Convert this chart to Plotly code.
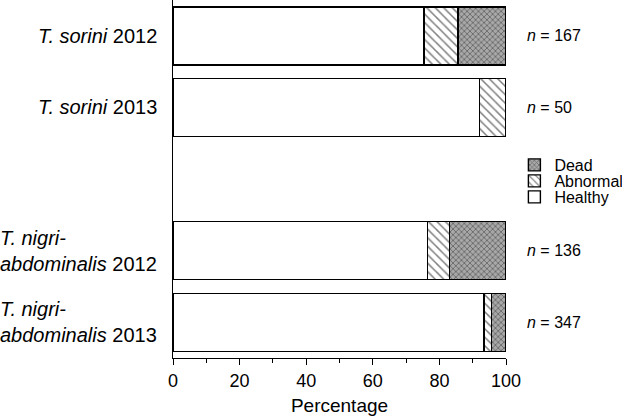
import plotly.graph_objects as go

# percentages of each outcome per sample
groups = ["T. sorini 2012", "T. sorini 2013", "T. nigri-abdominalis 2012", "T. nigri-abdominalis 2013"]
group_labels = ["<i>T. sorini</i> 2012", "<i>T. sorini</i> 2013",
                "<i>T. nigri-</i><br><i>abdominalis</i> 2012", "<i>T. nigri-</i><br><i>abdominalis</i> 2013"]
slots = [0, 1, 3, 4]  # slot 2 is left empty between species
sample_sizes = [167, 50, 136, 347]
healthy = [75.4, 92.0, 76.5, 93.4]
abnormal = [10.2, 8.0, 6.6, 2.3]
dead = [14.4, 0.0, 16.9, 4.3]

font = "Liberation Sans, Arial, sans-serif"
outline = dict(color="black", width=1.4)

fig = go.Figure()
fig.add_trace(go.Bar(y=slots, x=healthy, orientation="h", name="Healthy", width=0.81,
                     legend="legend3", showlegend=True,
                     marker=dict(color="white", line=outline)))
fig.add_trace(go.Bar(y=slots, x=abnormal, orientation="h", name="Abnormal", width=0.81,
                     legend="legend2", showlegend=True,
                     marker=dict(color="white", line=outline,
                                 pattern=dict(shape="\\", size=6, solidity=0.25,
                                              fgcolor="black", bgcolor="white"))))
fig.add_trace(go.Bar(y=slots, x=dead, orientation="h", name="Dead", width=0.81,
                     legend="legend4", showlegend=True,
                     marker=dict(color="#9a9a9a", line=outline,
                                 pattern=dict(shape="x", size=4, solidity=0.4,
                                              fgcolor="#2a2a2a", bgcolor="#a8a8a8"))))

# category labels on the left (left-aligned lines for the two-line names)
for s, lab in zip(slots, group_labels):
    fig.add_annotation(x=0, y=s, xref="paper", yref="y", text=lab, showarrow=False,
                       xanchor="right", xshift=-14, align="left",
                       font=dict(size=20, color="black", family=font))

# sample sizes on the right
for s, n in zip(slots, sample_sizes):
    fig.add_annotation(x=1, y=s, xref="paper", yref="y", text=f"<i>n</i> = {n}",
                       showarrow=False, xanchor="left", xshift=19,
                       font=dict(size=16, color="black", family=font))

leg = dict(xref="container", yref="container", x=0.827, xanchor="left", yanchor="middle",
           font=dict(size=16, color="black", family=font), bgcolor="rgba(0,0,0,0)",
           itemwidth=30)
fig.update_layout(
    barmode="stack",
    width=622, height=418,
    margin=dict(l=173, r=116, t=0, b=60, autoexpand=False),
    plot_bgcolor="white", paper_bgcolor="white",
    font=dict(family=font, color="black"),
    legend=dict(visible=False),
    legend4=dict(leg, y=1 - 165 / 418),
    legend2=dict(leg, y=1 - 181 / 418),
    legend3=dict(leg, y=1 - 197 / 418),
)
fig.update_xaxes(range=[0, 100], dtick=20, ticks="outside", ticklen=6, tickwidth=1.2,
                 tickcolor="black", showline=True, linecolor="black", linewidth=1.4,
                 showgrid=False, zeroline=False, automargin=False,
                 minor=dict(dtick=10, ticks="outside", ticklen=4, tickcolor="black", tickwidth=1.2),
                 tickfont=dict(size=18, color="black", family=font),
                 title=dict(text="Percentage", font=dict(size=19, color="black", family=font), standoff=8))
fig.update_yaxes(range=[4.5, -0.5], showticklabels=False, ticks="", showline=True,
                 linecolor="black", linewidth=1.4, showgrid=False, zeroline=False,
                 automargin=False)

fig.write_html("out.html", config={"displayModeBar": False},
               post_script="document.body.style.margin='0';")
